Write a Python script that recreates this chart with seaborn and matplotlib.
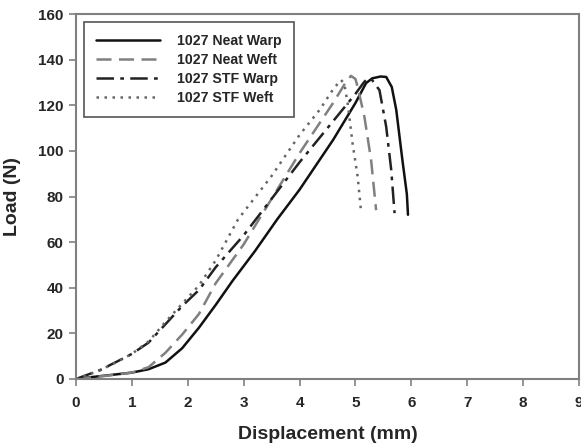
import matplotlib
matplotlib.use("Agg")
import matplotlib.pyplot as plt
import seaborn as sns
import pandas as pd

# Data
neat_warp_x = [0, 0.3, 0.6, 1.0, 1.3, 1.6, 1.9, 2.2, 2.5, 2.8, 3.2, 3.6, 4.0, 4.6, 5.0, 5.19, 5.3, 5.45, 5.55, 5.65, 5.73, 5.84, 5.92, 5.94]
neat_warp_y = [0, 0.9, 1.7, 2.8, 4.3, 7.2, 13.5, 22.5, 32.5, 43, 56, 70, 83, 104.8, 121, 129.7, 131.8, 132.6, 132.4, 128, 118, 96, 81, 72]

neat_weft_x = [0, 0.5, 1.0, 1.3, 1.6, 1.9, 2.2, 2.5, 3.0, 3.5, 4.0, 4.6, 4.8, 4.92, 5.0, 5.04, 5.16, 5.28, 5.37]
neat_weft_y = [0, 1.3, 2.8, 5.2, 11.5, 19.5, 28.5, 42, 59, 79, 99, 121, 129, 132.9, 131.5, 128, 115, 96, 74]

stf_warp_x = [0, 0.43, 0.73, 1.0, 1.3, 1.6, 1.9, 2.2, 2.5, 3.0, 3.5, 4.0, 4.6, 5.0, 5.15, 5.22, 5.3, 5.43, 5.55, 5.64, 5.70]
stf_warp_y = [0, 3.9, 7.6, 11, 16, 24, 32, 39, 49, 63, 79, 95, 113, 125, 130, 131.9, 131, 126.6, 110.6, 91.7, 72.7]

stf_weft_x = [0, 0.43, 0.73, 1.0, 1.3, 1.6, 1.9, 2.2, 2.5, 2.9, 3.5, 4.0, 4.36, 4.6, 4.74, 4.8, 4.86, 4.95, 5.04, 5.10]
stf_weft_y = [0, 3.8, 7.5, 11, 16.5, 25, 33, 41, 52, 70, 89, 107, 118, 127, 131.1, 129.5, 121, 103, 88.7, 73.4]

series_names = ["1027 Neat Warp", "1027 Neat Weft", "1027 STF Warp", "1027 STF Weft"]
x_ticks = [0, 1, 2, 3, 4, 5, 6, 7, 8, 9]
y_ticks = [0, 20, 40, 60, 80, 100, 120, 140, 160]

sns.set_theme(style="white")
plt.rcParams['font.family'] = ['Liberation Sans', 'DejaVu Sans']
plt.rcParams['font.weight'] = 'bold'

fig = plt.figure(figsize=(5.81, 4.47), dpi=100)
ax = fig.add_axes([76/581, 1-379/447, (579-76)/581, (379-14)/447])

styles = [
    dict(color="#111111", linestyle="-", linewidth=1.8),
    dict(color="#808080", linestyle=(0, (6, 3)), linewidth=1.8),
    dict(color="#222222", linestyle=(0, (7, 2.5, 1.5, 2.5)), linewidth=1.8),
    dict(color="#666666", linestyle=(0, (1, 2.2)), linewidth=1.8),
]
data = [(neat_warp_x, neat_warp_y), (neat_weft_x, neat_weft_y),
        (stf_warp_x, stf_warp_y), (stf_weft_x, stf_weft_y)]

for name, (xs, ys), st in zip(series_names, data, styles):
    df = pd.DataFrame({"x": xs, "y": ys})
    sns.lineplot(data=df, x="x", y="y", ax=ax, label=name, sort=False,
                 estimator=None, **st)

ax.set_xlim(0, 9)
ax.set_ylim(0, 160)
ax.set_xticks(x_ticks)
ax.set_yticks(y_ticks)
ax.tick_params(axis='both', labelsize=11, direction='out', length=5,
               width=1.2, color="#808080", bottom=True, left=True)
ax.tick_params(axis='x', pad=7)
ax.tick_params(axis='y', pad=4)
for lab in ax.get_xticklabels() + ax.get_yticklabels():
    lab.set_fontweight('bold')
for sp in ax.spines.values():
    sp.set_color("#808080")
    sp.set_linewidth(1.5)

ax.set_xlabel("Displacement (mm)", fontsize=14, fontweight='bold', labelpad=12)
ax.set_ylabel("Load (N)", fontsize=14, fontweight='bold', labelpad=12)

leg = ax.legend(loc="upper left", bbox_to_anchor=(0.016, 0.978), fontsize=10.2,
                handlelength=4.5, frameon=True, fancybox=False, framealpha=1,
                edgecolor="#555555", borderpad=0.85, labelspacing=0.36,
                handletextpad=1.2, borderaxespad=0)
leg.get_frame().set_linewidth(1.2)
for t in leg.get_texts():
    t.set_fontweight('bold')

fig.savefig("out.png", dpi=100)
